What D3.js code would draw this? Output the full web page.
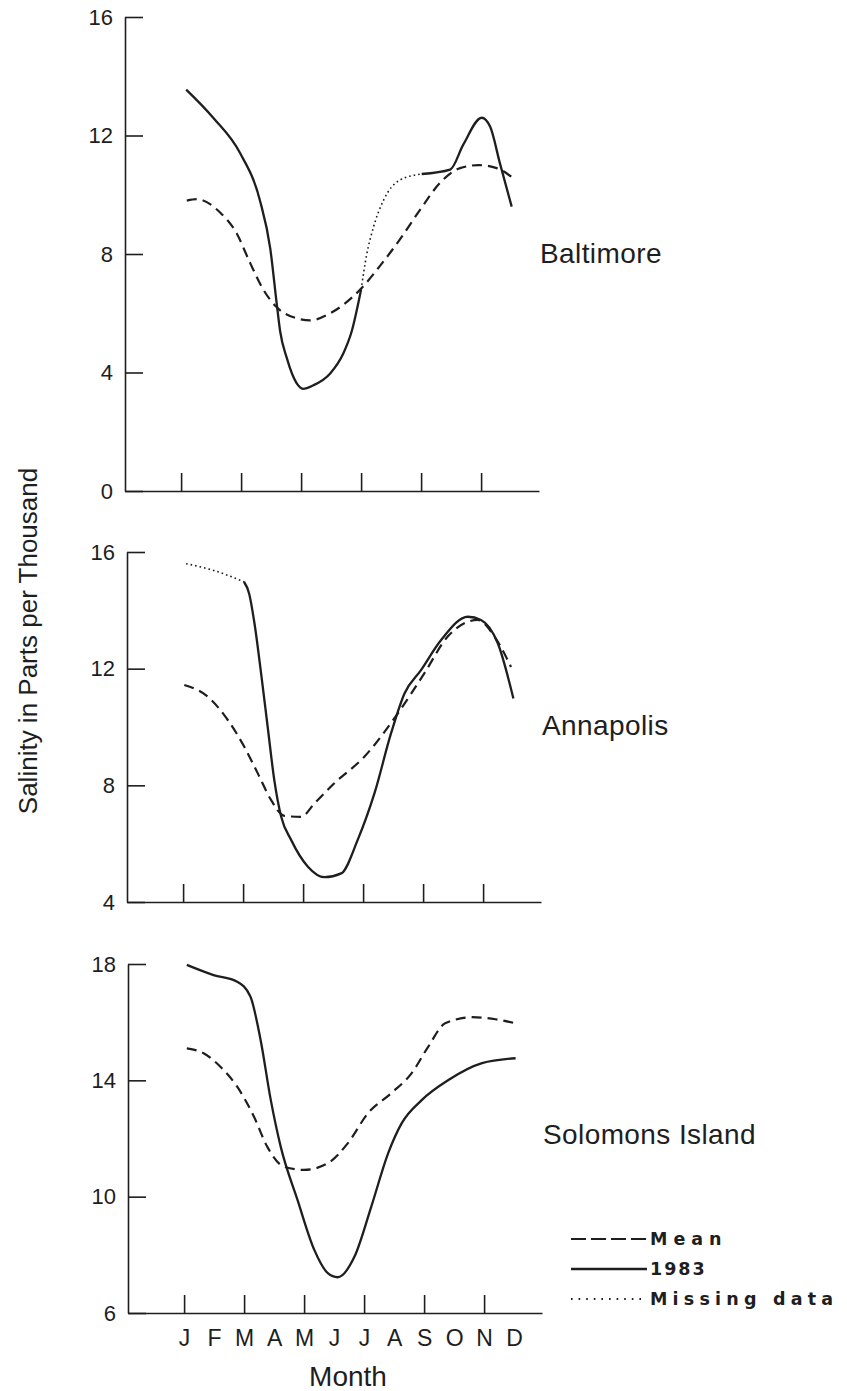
<!DOCTYPE html>
<html>
<head>
<meta charset="utf-8">
<script src="https://cdn.jsdelivr.net/npm/d3@7"></script>
<style>
  body { margin: 0; background: #fff; }
  text { font-family: "Liberation Sans", Arial, Helvetica, sans-serif; fill: #1e1e1e; }
</style>
</head>
<body>
<svg id="chart" width="847" height="1391"></svg>
<script>
// month index: 0 = Jan ... 11 = Dec
const months = ["J", "F", "M", "A", "M", "J", "J", "A", "S", "O", "N", "D"];
const monthTicks = [0, 2, 4, 6, 8, 10];
const stations = ["Baltimore", "Annapolis", "Solomons Island"];
const legendLabels = ["Mean", "1983", "Missing data"];

const baltimoreTicks = [0, 4, 8, 12, 16];
const annapolisTicks = [4, 8, 12, 16];
const solomonsTicks = [6, 10, 14, 18];

// [month, salinity ppt]
const baltimoreMean = [[0.19, 9.8], [0.52, 9.85], [1.3, 9.4], [1.85, 8.7], [2.3, 7.7], [2.74, 6.8],
  [3.19, 6.2], [3.85, 5.83], [4.3, 5.76], [4.97, 6.0], [5.97, 6.8], [6.63, 7.6], [7.3, 8.5],
  [7.97, 9.5], [8.63, 10.4], [9.3, 10.9], [9.91, 11.0], [10.52, 10.9], [11.08, 10.55]];
const baltimore1983 = [[0.17, 13.55], [1.07, 12.6], [1.97, 11.4], [2.63, 9.8], [2.97, 8.2],
  [3.19, 6.3], [3.3, 5.4], [3.52, 4.5], [3.85, 3.64], [4.06, 3.45], [4.41, 3.57], [4.97, 3.97],
  [5.41, 4.65], [5.69, 5.4], [6.0, 6.8], [6.19, 8.0], [6.41, 8.9], [6.74, 9.8], [7.3, 10.5],
  [8.02, 10.7], [8.97, 10.85], [9.41, 11.7], [10.02, 12.6], [10.3, 12.3], [10.63, 11.05], [11.02, 9.6]];
const baltimoreMissing = [6.0, 8.02];

const annapolisMean = [[0.04, 11.44], [0.82, 11.04], [1.49, 10.24], [2.04, 9.32], [2.49, 8.41],
  [2.93, 7.5], [3.38, 6.95], [3.93, 6.92], [4.38, 7.38], [5.04, 8.07], [6.04, 8.98], [7.16, 10.47],
  [8.04, 11.84], [8.82, 13.1], [9.82, 13.67], [10.38, 13.1], [10.93, 12.06]];
const annapolis1983 = [[0.1, 15.6], [1.04, 15.36], [2.03, 14.98], [2.2, 14.58], [2.38, 13.55],
  [2.6, 11.84], [2.82, 10.0], [3.04, 8.18], [3.27, 6.92], [3.6, 6.13], [4.16, 5.21], [4.71, 4.85],
  [5.27, 4.98], [5.82, 6.13], [6.38, 7.73], [6.93, 9.78], [7.38, 11.15], [7.93, 11.95], [8.6, 12.98],
  [9.49, 13.78], [9.93, 13.67], [10.49, 12.87], [11.01, 10.98]];
const annapolisMissing = [0, 2.03];

const solomonsMean = [[0.09, 15.1], [0.65, 14.93], [1.21, 14.47], [1.77, 13.78], [2.33, 12.75],
  [2.77, 11.72], [3.33, 11.03], [4.0, 10.92], [4.79, 11.15], [5.46, 11.84], [6.13, 12.87],
  [6.91, 13.56], [7.58, 14.24], [8.14, 15.16], [8.7, 15.96], [9.6, 16.17], [10.38, 16.1], [11.05, 15.96]];
const solomons1983 = [[0.09, 17.97], [0.98, 17.62], [1.77, 17.39], [2.21, 16.88], [2.55, 15.39],
  [2.89, 13.32], [3.22, 11.72], [3.78, 9.89], [4.34, 8.17], [4.79, 7.37], [5.12, 7.23], [5.68, 7.94],
  [6.24, 9.66], [6.8, 11.49], [7.25, 12.52], [7.92, 13.32], [8.81, 14.01], [9.93, 14.59], [11.05, 14.76]];
const solomonsMissing = null;

// layout of the three stacked panels (scan is slightly skewed, so lefts differ a bit)
const panels = [
  {name: stations[0], ticks: baltimoreTicks, mean: baltimoreMean, obs: baltimore1983, missing: baltimoreMissing,
    left: 125, top: 17, bottom: 491, labelY: 263},
  {name: stations[1], ticks: annapolisTicks, mean: annapolisMean, obs: annapolis1983, missing: annapolisMissing,
    left: 127, top: 552, bottom: 902, labelY: 735},
  {name: stations[2], ticks: solomonsTicks, mean: solomonsMean, obs: solomons1983, missing: solomonsMissing,
    left: 128, top: 964, bottom: 1313, labelY: 1144}
];

const ink = "#1e1e1e";
const axisWidth = 414, tickLen = 18;

const svg = d3.select("#chart");
svg.append("rect").attr("width", 847).attr("height", 1391).attr("fill", "#fff");

panels.forEach(function (p, i) {
  const x = d3.scaleLinear().domain([-1.87, 11.93]).range([p.left, p.left + axisWidth]);
  const y = d3.scaleLinear().domain(d3.extent(p.ticks)).range([p.bottom, p.top]);
  const g = svg.append("g");

  // y axis, ticks pointing inwards
  const yAxis = g.append("g")
      .attr("transform", "translate(" + p.left + ",0)")
      .call(d3.axisLeft(y).tickValues(p.ticks).tickSizeInner(-tickLen).tickSizeOuter(0).tickPadding(12));

  // x axis, ticks pointing up
  const xAxis = g.append("g")
      .attr("transform", "translate(0," + p.bottom + ")")
      .call(d3.axisBottom(x).tickValues(monthTicks).tickSizeInner(-tickLen).tickSizeOuter(0).tickFormat(""));

  [yAxis, xAxis].forEach(function (a) {
    a.selectAll("path, line").attr("stroke", ink).attr("stroke-width", 1.6);
    a.selectAll("text").attr("fill", ink).style("font-size", "22px");
  });

  // month letters only under the bottom panel
  if (i === panels.length - 1) {
    const lab = g.append("g")
        .attr("transform", "translate(0," + p.bottom + ")")
        .call(d3.axisBottom(x).tickValues(d3.range(months.length)).tickSize(0).tickPadding(17)
            .tickFormat(function (d) { return months[d]; }));
    lab.select(".domain").remove();
    lab.selectAll("text").attr("fill", ink).style("font-size", "23px");
  }

  const line = d3.line()
      .x(function (d) { return x(d[0]); })
      .y(function (d) { return y(d[1]); })
      .curve(d3.curveMonotoneX);

  g.append("path")
      .datum(p.mean)
      .attr("d", line)
      .attr("fill", "none").attr("stroke", ink).attr("stroke-width", 2.2)
      .attr("stroke-dasharray", "10,6");

  const m = p.missing;
  const solid = line.defined(function (d) { return !m || d[0] <= m[0] || d[0] >= m[1]; });
  g.append("path")
      .datum(p.obs)
      .attr("d", solid)
      .attr("fill", "none").attr("stroke", ink).attr("stroke-width", 2.3);

  if (m) {
    const dotted = d3.line()
        .x(function (d) { return x(d[0]); })
        .y(function (d) { return y(d[1]); })
        .curve(d3.curveMonotoneX)
        .defined(function (d) { return d[0] >= m[0] && d[0] <= m[1]; });
    g.append("path")
        .datum(p.obs)
        .attr("d", dotted)
        .attr("fill", "none").attr("stroke", ink).attr("stroke-width", 1.6)
        .attr("stroke-dasharray", "1.6,3");
  }

  g.append("text")
      .attr("x", p.left + axisWidth + 1)
      .attr("y", p.labelY)
      .style("font-size", "28px")
      .style("letter-spacing", "0.4px")
      .text(p.name);
});

// y axis title
svg.append("text")
    .attr("transform", "translate(37,641) rotate(-90)")
    .attr("text-anchor", "middle")
    .style("font-size", "26px")
    .text("Salinity in Parts per Thousand");

// x axis title
svg.append("text")
    .attr("x", 348)
    .attr("y", 1386)
    .attr("text-anchor", "middle")
    .style("font-size", "28px")
    .text("Month");

// legend (wide bold lettering)
const legendDash = ["15,5", null, "1.6,6"];
const legendWidth = [2.2, 2.3, 1.8];
const legendSpacing = [6, 2, 5.2];
const legend = svg.append("g").attr("transform", "translate(571,1239)");
legendLabels.forEach(function (label, i) {
  const row = legend.append("g").attr("transform", "translate(0," + (i * 30) + ")");
  row.append("line")
      .attr("x1", 0).attr("x2", 76)
      .attr("stroke", ink).attr("stroke-width", legendWidth[i])
      .attr("stroke-dasharray", legendDash[i]);
  row.append("text")
      .attr("x", 79)
      .attr("y", 6)
      .style("font-family", "'DejaVu Sans', sans-serif")
      .style("font-size", "17.5px")
      .style("font-weight", "bold")
      .style("letter-spacing", legendSpacing[i] + "px")
      .text(label);
});
</script>
</body>
</html>
